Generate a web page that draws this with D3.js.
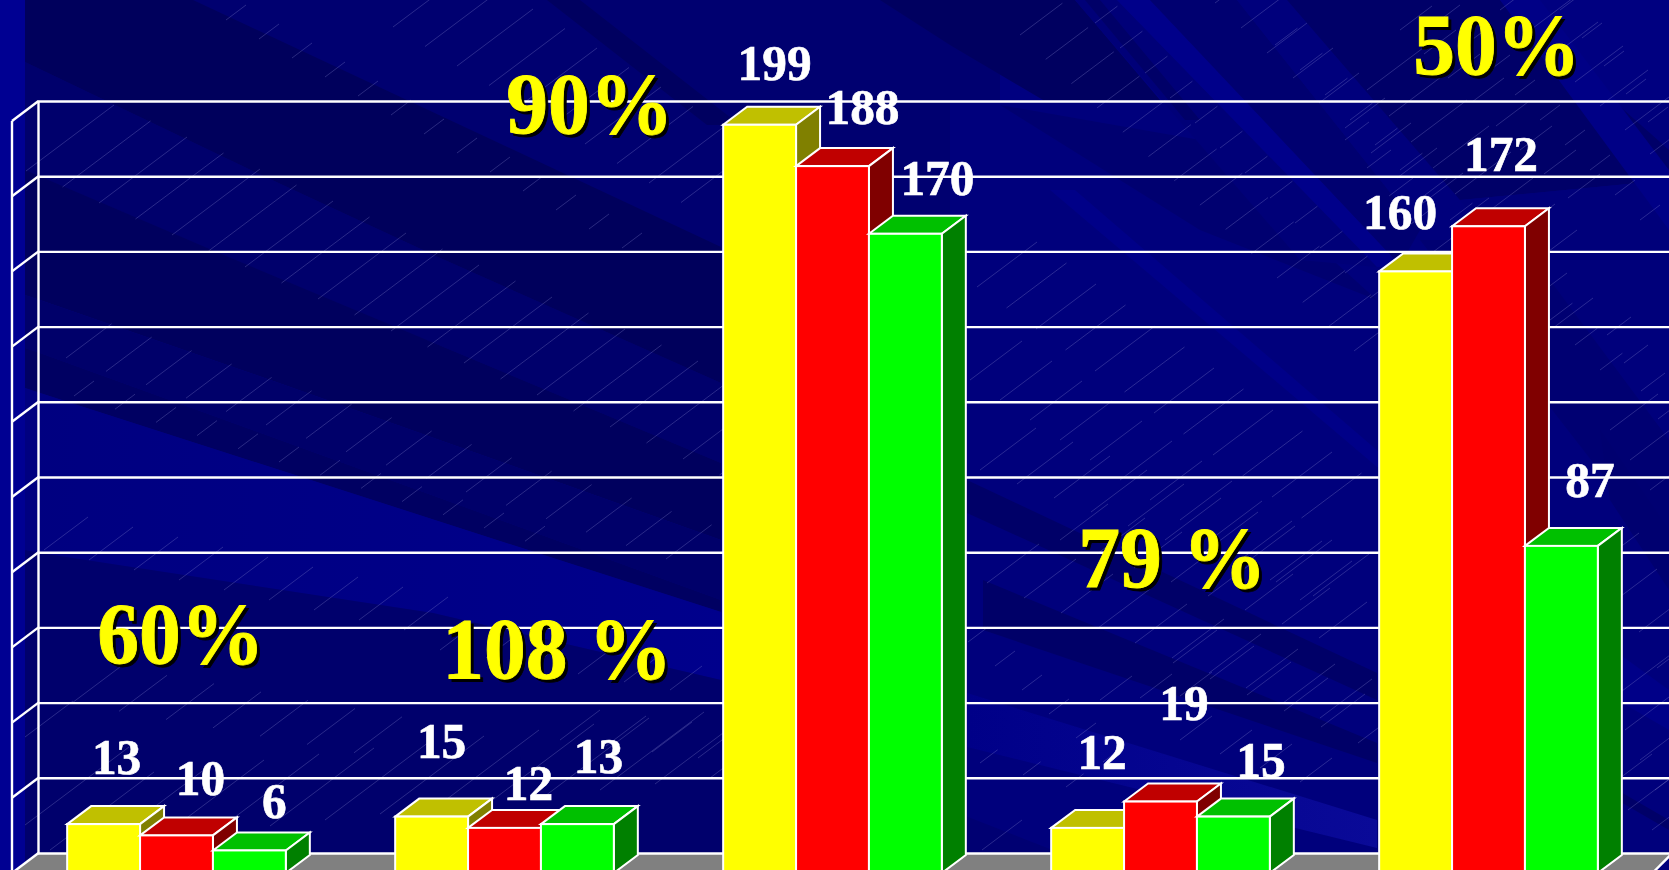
<!DOCTYPE html>
<html><head><meta charset="utf-8">
<script src="https://cdn.jsdelivr.net/npm/d3@7/dist/d3.min.js"></script>
<style>html,body{margin:0;padding:0;background:#000080;overflow:hidden}svg{display:block}text{font-family:"Liberation Serif","Times New Roman",serif;font-weight:700}</style>
</head><body><div id="c"></div>
<script>
// ---- data ----
const categories = ["A","B","C","D","E"];
const seriesNames = ["Series 1","Series 2","Series 3"];
const yellowValues = [13,15,199,12,160];
const redValues = [10,12,188,19,172];
const greenValues = [6,13,170,15,87];
const percentLabels = ["60%","108 %","90%","79 %","50%"];
const axisTicks = [0,20,40,60,80,100,120,140,160,180,200];

// ---- layout (hand placed labels, offsets from the top front edge of each bar) ----
const labelDx = [[13,24,25],[10,24,21],[15,30,32],[14.5,23.5,27.5],[-15.5,12.5,28.5]];
const labelDy = [[-50,-40,-32],[-59,-28,-51],[-45,-42,-39],[-59,-82,-40],[-42,-55,-49]];
const pctDx = [30,47,-217,27,34];
const pctY = [663,678,133,587,74];
const faces = [
  {front:"#ffff00",top:"#c0c000",side:"#808000"},
  {front:"#ff0000",top:"#c00000",side:"#800000"},
  {front:"#00ff00",top:"#00c000",side:"#008000"}];
const W=1669,H=870;
const depthX=24,depthY=18,wallX=26,wallY=20;

const svg=d3.select("#c").append("svg").attr("width",W).attr("height",H).attr("viewBox",`0 0 ${W} ${H}`);
const defs=svg.append("defs");
function grad(id,stops){const g=defs.append("linearGradient").attr("id",id);stops.forEach(([o,c])=>g.append("stop").attr("offset",o).attr("stop-color",c));}
grad("bright",[[0,"#000080"],[1,"#000090"]]);
grad("bright2",[[0,"#000088"],[1,"#0a0a98"]]);

// ---- background ----
const bg=svg.append("g");
bg.append("rect").attr("width",W).attr("height",H).attr("fill","#000080");
const polys=[
 ["#000070",[[25,0],[1000,0],[1000,540],[25,200]]],
 ["#00005c",[[25,0],[193,0],[721,247],[721,383],[438,257],[257,173],[25,62]]],
 ["#00006c",[[25,62],[257,173],[438,257],[721,383],[721,463],[219,253],[25,170]]],
 ["#00005e",[[25,170],[219,253],[721,463],[721,540],[279,383],[40,300],[25,295]]],
 ["#00006a",[[25,295],[40,300],[279,383],[721,540],[721,600],[40,353],[25,348]]],
 ["#000062",[[25,348],[40,353],[721,600],[721,612],[40,393],[25,388]]],
 ["url(#bright)",[[25,388],[40,393],[721,612],[960,690],[960,740],[721,680],[433,613],[40,553],[25,550]]],
 ["#00006c",[[25,550],[40,553],[433,613],[721,680],[960,740],[960,873],[25,873]]],
 ["#000060",[[547,0],[580,0],[740,125],[707,125]]],
 ["#000060",[[880,0],[1075,0],[1160,100],[1060,110],[950,45]]],
 ["#00007c",[[950,100],[1669,100],[1669,873],[950,873]]],
 ["#000070",[[1000,105],[1200,140],[1377,300],[1200,230]]],
 ["#000078",[[1075,0],[1117,0],[1377,267],[1300,260]]],
 ["#000068",[[1085,0],[1100,0],[1200,120],[1185,120]]],
 ["#00008a",[[1117,0],[1150,0],[1400,265],[1377,267]]],
 ["#000070",[[1150,0],[1237,0],[1420,230],[1400,265]]],
 ["#00007c",[[1237,0],[1287,0],[1460,200],[1420,230]]],
 ["#000068",[[1287,0],[1500,0],[1669,150],[1669,180],[1460,200]]],
 ["#00007a",[[1460,200],[1669,180],[1669,330],[1560,330]]],
 ["#000088",[[1050,190],[1075,190],[1400,470],[1377,467]]],
 ["#000072",[[1420,240],[1520,240],[1669,440],[1669,560]]],
 ["#000086",[[1500,0],[1540,0],[1669,170],[1669,230]]],
 ["#000068",[[967,480],[1377,673],[1377,700],[967,513]]],
 ["#000068",[[983,580],[1377,743],[1377,763],[983,630]]],
 ["url(#bright2)",[[967,693],[1377,820],[1377,848],[967,747]]],
 ["#000072",[[950,810],[1060,853],[950,853]]],
 ["#000070",[[1600,430],[1669,530],[1669,590],[1610,500]]],
 ["#000088",[[1600,640],[1669,690],[1669,730],[1600,690]]],
 ["#000068",[[1600,780],[1669,820],[1669,830],[1600,790]]],
 ["#000092",[[0,0],[25,0],[25,873],[0,873]]]
];
bg.selectAll("polygon").data(polys).join("polygon")
  .attr("points",d=>d[1].map(p=>p.join(",")).join(" ")).attr("fill",d=>d[0]);

// faint hatch rows: [startX,startY,stepX,stepY,count,length]
const hatchRows=[
 [26,171,36.5,16,20,110],[226,20,33,19,13,25],[393,27,32,19.5,10,95],
 [66,358,40,13.4,16,57],[74,396,41,13.2,12,25],[44,550,45,10,9,55],
 [72,703,47,8.3,7,60],[50,850,55,-6,14,130],[25,825,0,0,1,130],[25,737,0,0,1,60],
 [440,650,46,8,6,40],[560,740,46,6,4,50],
 [1020,35,25.7,24.3,14,53],[1095,23,25,25,16,28],[1215,3,26,25,14,50],[1275,45,25,25,14,28],
 [977,287,29.5,21,12,75],[970,380,30,20,12,65],[987,583,37,15,10,65],[968,642,27,24,6,25],
 [1173,663,37,16,6,55],[980,763,43,12,3,22],[982,850,40,0,1,50],[980,470,37,14,10,70],
 [1060,540,37,14,8,60],[1180,740,40,14,4,40],[1100,700,40,-2,3,40],
 [1345,140,22,28,6,30],[1367,90,22,26,8,70],[1400,30,24,24,8,40],[1440,20,25,25,9,25],
 [1500,10,25,24,7,60],[1560,10,22,28,6,25],[1607,335,17,28,6,30],[1610,430,20,30,8,60],
 [1603,560,18,36,8,45],[1610,700,15,30,6,80],[1604,790,24,20,3,60]
];
const hatch=[];
hatchRows.forEach(([x,y,sx,sy,n,l])=>{for(let i=0;i<n;i++){const a=x+i*sx,b=y+i*sy;hatch.push([a,b,a+l*.8,b-l*.6]);}});
svg.append("g").attr("stroke","#8c8cd0").attr("stroke-opacity",.38).attr("stroke-width",.8)
  .selectAll("line").data(hatch).join("line")
  .attr("x1",d=>d[0]).attr("y1",d=>d[1]).attr("x2",d=>d[2]).attr("y2",d=>d[3]);

// ---- scales ----
const y=d3.scaleLinear().domain([0,200]).range([873,121]);
const x0=d3.scaleBand().domain(categories).range([12.5,1652.5]).paddingInner(1/3).paddingOuter(1/6);
const x1=d3.scaleBand().domain(seriesNames).range([0,x0.bandwidth()]);
const series=[yellowValues,redValues,greenValues];

// ---- floor ----
const fl=svg.append("g");
fl.append("polygon").attr("fill","#808080")
  .attr("points",[[x0.range()[0]+wallX,y(0)-wallY],[x0.range()[1]+wallX-6,y(0)-wallY],[x0.range()[1],y(0)],[x0.range()[0],y(0)]].map(p=>p.join(",")).join(" "));

// ---- walls and gridlines ----
const grid=svg.append("g").attr("transform",`translate(${x0.range()[0]+wallX-.5},${-wallY})`)
  .call(d3.axisRight(y).tickValues(axisTicks).tickSize(W).tickFormat(""));
grid.select(".domain").remove();
grid.selectAll("line").attr("stroke","#fff").attr("stroke-width",2.4);
const wall=svg.append("g").attr("stroke","#fff").attr("stroke-width",2.4).attr("fill","none");
wall.selectAll("line.d").data(axisTicks).join("line").attr("class","d")
  .attr("x1",38.5).attr("x2",12).attr("y1",d=>y(d)-wallY).attr("y2",d=>y(d));
wall.append("line").attr("x1",38.5).attr("x2",38.5).attr("y1",y(200)-wallY).attr("y2",y(0)-wallY);
wall.append("line").attr("x1",12).attr("x2",12).attr("y1",y(200)).attr("y2",y(0));
wall.append("line").attr("x1",x0.range()[1]+wallX-6).attr("x2",x0.range()[1]).attr("y1",y(0)-wallY).attr("y2",y(0));

// ---- bars ----
const bars=[];
categories.forEach((c,g)=>seriesNames.forEach((s,i)=>bars.push({c,s,g,i,v:series[i][g]})));
const bw=x1.bandwidth();
const barG=svg.append("g").selectAll("g").data(bars).join("g")
  .attr("stroke","#fff").attr("stroke-width",2).attr("stroke-linejoin","miter");
const xOf=d=>x0(d.c)+x1(d.s);
const pts=a=>a.map(p=>p.join(",")).join(" ");
barG.append("polygon").attr("fill",d=>faces[d.i].top)
  .attr("points",d=>{const l=xOf(d),t=y(d.v);return pts([[l,t],[l+depthX,t-depthY],[l+bw+depthX,t-depthY],[l+bw,t]]);});
barG.append("polygon").attr("fill",d=>faces[d.i].side)
  .attr("points",d=>{const l=xOf(d),t=y(d.v);return pts([[l+bw,t],[l+bw+depthX,t-depthY],[l+bw+depthX,y(0)-depthY],[l+bw,y(0)]]);});
barG.append("rect").attr("fill",d=>faces[d.i].front)
  .attr("x",xOf).attr("width",bw).attr("y",d=>y(d.v)).attr("height",d=>y(0)-y(d.v));

// ---- value labels ----
svg.append("g").selectAll("text").data(bars).join("text")
  .attr("fill","#fff").attr("stroke","#fff").attr("stroke-width",.6).attr("font-size",47).attr("text-anchor","middle")
  .attr("transform",d=>`translate(${xOf(d)+bw/2+labelDx[d.g][d.i]},${y(d.v)+labelDy[d.g][d.i]}) scale(1.05,1.1)`)
  .text(d=>d.v);

// ---- percent labels, with a hard black shadow ----
const pct=svg.append("g");
[["#000",3],["#ffff00",0]].forEach(([fill,o])=>{
  pct.append("g").selectAll("text").data(percentLabels).join("text")
    .attr("fill",fill).attr("stroke",fill).attr("stroke-width",.8).attr("font-size",80)
    .attr("transform",(d,i)=>`translate(${x0(categories[i])+pctDx[i]+o},${pctY[i]+o}) scale(1.045,1.08)`)
    .text(d=>d);
});
</script></body></html>
